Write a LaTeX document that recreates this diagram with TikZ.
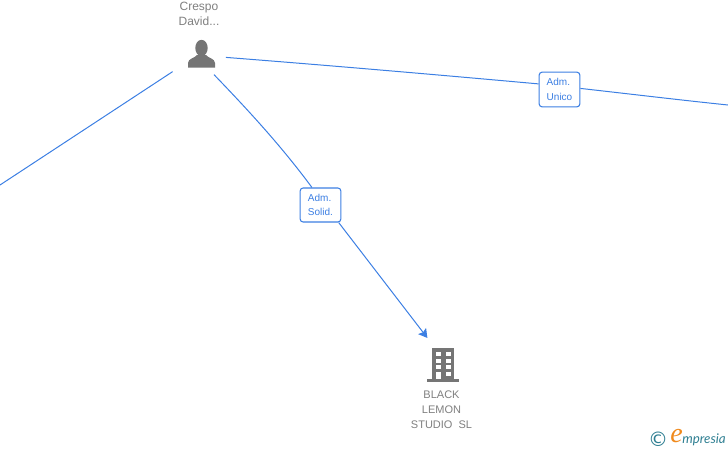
\documentclass[tikz,border=0pt]{standalone}
\usepackage{fontspec}
\setmainfont{Liberation Sans}
\newfontfamily\logofont{Lato}
\newfontfamily\logoe{Liberation Serif}
\newfontfamily\symbolfont{DejaVu Sans}
\usetikzlibrary{arrows.meta}
\definecolor{edgeblue}{HTML}{3C7FE3}
\definecolor{icongray}{HTML}{757575}
\definecolor{textgray}{HTML}{7F7F7F}
\definecolor{logoteal}{HTML}{2F7F92}
\definecolor{logoorange}{HTML}{F08A1D}
\tikzset{
  edge/.style={draw=edgeblue,line width=0.75pt},
  role/.style={draw=edgeblue,line width=0.8pt,fill=white,rounded corners=2.2pt,inner sep=0pt,
    text=edgeblue,align=left,font=\fontsize{7.5pt}{10.8pt}\selectfont},
  anchorzone/.style={circle,inner sep=0pt,minimum size=37.5pt},
  lab/.style={text=textgray,align=center,inner sep=0pt},
}
\begin{document}
\begin{tikzpicture}[x=0.75pt,y=-0.75pt]
\useasboundingbox (0,0) rectangle (728,450);
% anchors
\node[anchorzone] (person) at (201,53) {};
\node[anchorzone,minimum size=46.5pt] (company) at (443,365) {};
\coordinate (westend) at (0,185);
\coordinate (eastend) at (728,105);
% role boxes
\node[role,minimum width=30.5pt,minimum height=25.5pt] (solid) at (320.5,205) {Adm.\\Solid.};
\node[role,minimum width=30.5pt,minimum height=26pt] (unico) at (559.5,89.5) {Adm.\\Unico};
% connectors
\draw[edge,shorten <=6.5pt] (person) -- (westend);
\draw[edge] (person.-10) .. controls (330,65.5) and (440,75) .. (unico.165);
\draw[edge] (unico.3) .. controls (630,94) and (680,100) .. (eastend);
\draw[edge] (person.-59) .. controls (250,112) and (282,147) .. (solid.116);
\draw[edge,-{Stealth[length=6.5pt,width=7.5pt,inset=1.2pt]}] (solid.-44) -- (company.120.7);
% person icon
\fill[icongray] (201.5,48) ellipse [x radius=6.2,y radius=8.2];
\fill[icongray] (188,67.5) -- (188,63) .. controls (188,58.5) and (195,58) .. (197,55)
  -- (206,55) .. controls (208,58) and (215,58.5) .. (215,63) -- (215,67.5) -- cycle;
% building icon
\fill[icongray] (432,348) rectangle (454,379);
\fill[icongray] (427,379) rectangle (459,381.5);
\foreach \yy in {352,358.5,365}{
  \fill[white] (436,\yy) rectangle (441,\yy+4.3);
  \fill[white] (446,\yy) rectangle (450.5,\yy+4.3);
}
\fill[white] (436,372) rectangle (441,379);
\fill[white] (446,372) rectangle (450.5,376);
% labels
\node[lab,font=\fontsize{9pt}{11pt}\selectfont] (name) at (199,14) {Crespo\\David...};
\node[lab,font=\fontsize{8.25pt}{11.25pt}\selectfont] (cname) at (441.5,409.5) {BLACK\\LEMON\\STUDIO\ \ SL};
% logo
\node[inner sep=0pt,text=logoteal,font=\symbolfont\fontsize{15pt}{15pt}\selectfont] (copy) at (658,439) {©};
\node[inner sep=0pt,text=logoorange,font=\logoe\fontsize{21pt}{21pt}\selectfont\itshape] (loge) at (676.5,436.5) {e};
\node[inner sep=0pt,text=logoteal,anchor=west,font=\logofont\fontsize{10pt}{10pt}\selectfont\itshape] (logr) at (682,440) {mpresia};
\end{tikzpicture}
\end{document}
